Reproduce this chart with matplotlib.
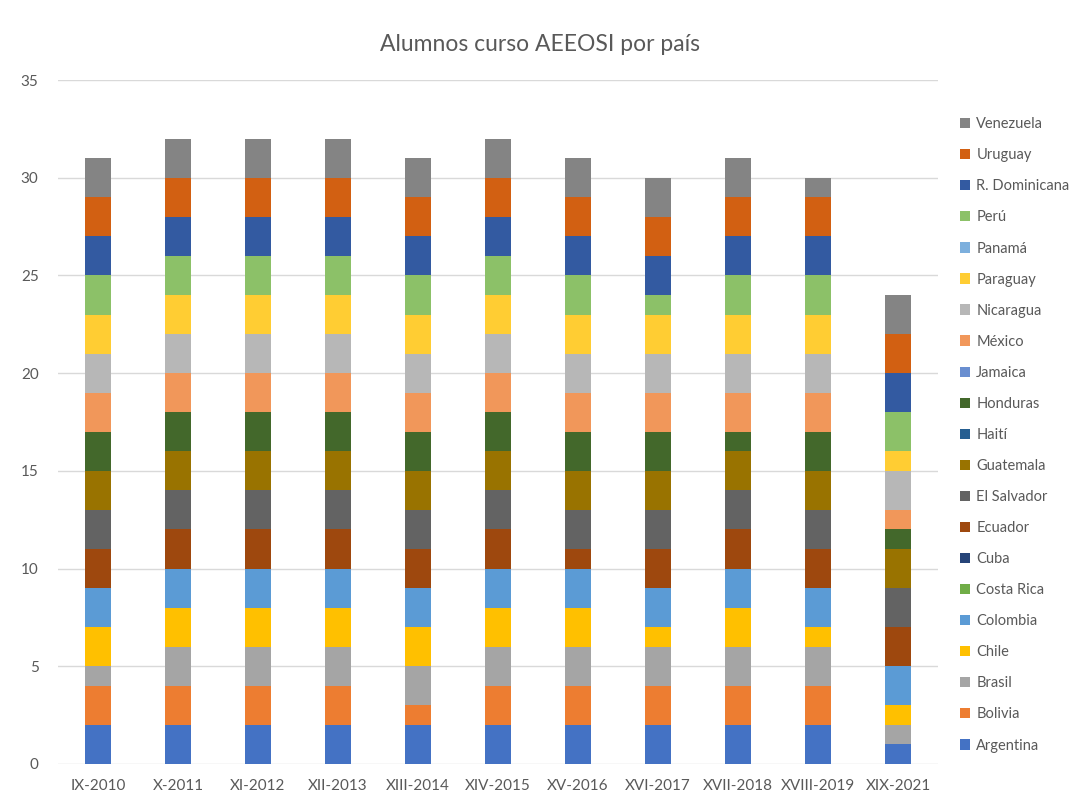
import numpy as np
import matplotlib.pyplot as plt

plt.rcParams['font.family'] = ['Lato', 'DejaVu Sans']

ediciones = ["IX-2010", "X-2011", "XI-2012", "XII-2013", "XIII-2014", "XIV-2015",
             "XV-2016", "XVI-2017", "XVII-2018", "XVIII-2019", "XIX-2021"]

# stacked bottom -> top
paises = ["Argentina", "Bolivia", "Brasil", "Chile", "Colombia", "Costa Rica", "Cuba",
          "Ecuador", "El Salvador", "Guatemala", "Haití", "Honduras", "Jamaica",
          "México", "Nicaragua", "Paraguay", "Panamá", "Perú", "R. Dominicana",
          "Uruguay", "Venezuela"]

argentina     = [2, 2, 2, 2, 2, 2, 2, 2, 2, 2, 1]
bolivia       = [2, 2, 2, 2, 1, 2, 2, 2, 2, 2, 0]
brasil        = [1, 2, 2, 2, 2, 2, 2, 2, 2, 2, 1]
chile         = [2, 2, 2, 2, 2, 2, 2, 1, 2, 1, 1]
colombia      = [2, 2, 2, 2, 2, 2, 2, 2, 2, 2, 2]
costa_rica    = [0, 0, 0, 0, 0, 0, 0, 0, 0, 0, 0]
cuba          = [0, 0, 0, 0, 0, 0, 0, 0, 0, 0, 0]
ecuador       = [2, 2, 2, 2, 2, 2, 1, 2, 2, 2, 2]
el_salvador   = [2, 2, 2, 2, 2, 2, 2, 2, 2, 2, 2]
guatemala     = [2, 2, 2, 2, 2, 2, 2, 2, 2, 2, 2]
haiti         = [0, 0, 0, 0, 0, 0, 0, 0, 0, 0, 0]
honduras      = [2, 2, 2, 2, 2, 2, 2, 2, 1, 2, 1]
jamaica       = [0, 0, 0, 0, 0, 0, 0, 0, 0, 0, 0]
mexico        = [2, 2, 2, 2, 2, 2, 2, 2, 2, 2, 1]
nicaragua     = [2, 2, 2, 2, 2, 2, 2, 2, 2, 2, 2]
paraguay      = [2, 2, 2, 2, 2, 2, 2, 2, 2, 2, 1]
panama        = [0, 0, 0, 0, 0, 0, 0, 0, 0, 0, 0]
peru          = [2, 2, 2, 2, 2, 2, 2, 1, 2, 2, 2]
r_dominicana  = [2, 2, 2, 2, 2, 2, 2, 2, 2, 2, 2]
uruguay       = [2, 2, 2, 2, 2, 2, 2, 2, 2, 2, 2]
venezuela     = [2, 2, 2, 2, 2, 2, 2, 2, 2, 1, 2]

valores = [argentina, bolivia, brasil, chile, colombia, costa_rica, cuba, ecuador,
           el_salvador, guatemala, haiti, honduras, jamaica, mexico, nicaragua,
           paraguay, panama, peru, r_dominicana, uruguay, venezuela]

colores = ["#4472C4", "#ED7D31", "#A5A5A5", "#FFC000", "#5B9BD5", "#70AD47", "#264478",
           "#9E480E", "#636363", "#997300", "#255E91", "#43682B", "#698ED0",
           "#F1975A", "#B7B7B7", "#FFCD33", "#7CAFDD", "#8CC168", "#335AA1",
           "#D26012", "#848484"]

txt = "#595959"

fig = plt.figure(figsize=(10.8, 8.01), dpi=100)
ax = fig.add_axes([0.0537, 0.0462, 0.8148, 0.8539])

x = np.arange(len(ediciones))
base = np.zeros(len(ediciones))
handles = []
for nombre, vals, c in zip(paises, valores, colores):
    v = np.array(vals, dtype=float)
    h = ax.bar(x, v, 0.325, bottom=base, color=c, label=nombre, zorder=3)
    handles.append(h)
    base += v

ax.set_xlim(-0.5, len(ediciones) - 0.5)
ax.set_ylim(0, 35)
ax.set_yticks(range(0, 36, 5))
ax.set_xticks(x)
ax.set_xticklabels(ediciones)
ax.tick_params(axis='both', length=0, labelsize=11, labelcolor=txt)
ax.tick_params(axis='y', pad=14)
ax.tick_params(axis='x', pad=11)
ax.grid(axis='y', color="#D9D9D9", linewidth=1, zorder=0)
for s in ax.spines.values():
    s.set_visible(False)

fig.text(0.5, 0.945, "Alumnos curso AEEOSI por país", ha='center', va='center',
         fontsize=16.5, color=txt)

fig.legend(handles[::-1], paises[::-1], loc='upper left', bbox_to_anchor=(0.877, 0.870),
           frameon=False, fontsize=10.5, labelcolor=txt, handlelength=0.7,
           handleheight=0.7, handletextpad=0.4, labelspacing=1.17)

fig.savefig("out.png", dpi=100)
